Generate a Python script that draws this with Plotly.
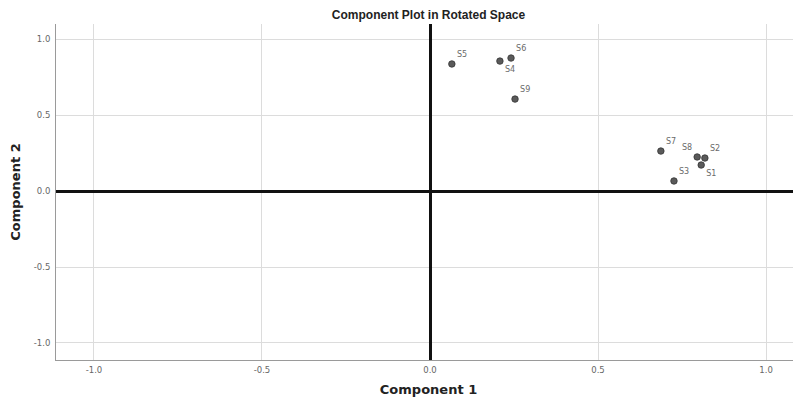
import plotly.graph_objects as go

labels = ["S5", "S4", "S6", "S9", "S7", "S8", "S2", "S1", "S3"]
comp1 = [0.065, 0.208, 0.241, 0.253, 0.687, 0.795, 0.818, 0.807, 0.726]
comp2 = [0.836, 0.855, 0.875, 0.605, 0.263, 0.224, 0.217, 0.171, 0.066]
positions = ["top right", "bottom right", "top right", "top right", "top right",
             "top left", "top right", "bottom right", "top right"]

tick_vals = [-1.0, -0.5, 0.0, 0.5, 1.0]
tick_text = ["-1.0", "-0.5", "0.0", "0.5", "1.0"]

arial = "Liberation Sans, Arial"
dejavu = "DejaVu Sans"
W, H = 793, 398

fig = go.Figure()
fig.add_trace(go.Scatter(
    x=comp1, y=comp2, mode="markers+text", text=labels,
    textposition=positions,
    textfont=dict(size=8, color="#6a6a6a", family=dejavu),
    marker=dict(size=6.5, color="#5a5a5a", line=dict(width=0.8, color="#333333")),
    cliponaxis=False, showlegend=False,
))

axis_common = dict(
    automargin=False,
    showgrid=True, gridcolor="#dcdcdc", gridwidth=1,
    zeroline=True, zerolinecolor="#111111", zerolinewidth=2.5,
    showline=True, linecolor="#9a9a9a", linewidth=1, mirror=False,
    ticks="", tickvals=tick_vals, ticktext=tick_text,
    tickfont=dict(size=8.5, color="#666666", family=dejavu),
)

fig.update_layout(
    width=W, height=H,
    margin=dict(l=48, r=0, t=16, b=46, autoexpand=False),
    paper_bgcolor="white", plot_bgcolor="white",
    title=dict(text="<b>Component Plot in Rotated Space</b>",
               x=(48 + 745 / 2) / W, xanchor="center",
               y=1 - 7 / H, yref="container", yanchor="middle",
               font=dict(size=12, color="#222222", family=arial)),
    xaxis=dict(range=[-1.113, 1.104], ticklabelstandoff=2,
               title=dict(text="<b>Component 1</b>", standoff=10,
                          font=dict(size=13, color="#222222", family=dejavu)),
               **axis_common),
    yaxis=dict(range=[-1.112, 1.099], ticklabelstandoff=3,
               title=dict(text="<b>Component 2</b>", standoff=17,
                          font=dict(size=13, color="#222222", family=dejavu)),
               **axis_common),
)

fig.write_html("out.html")
